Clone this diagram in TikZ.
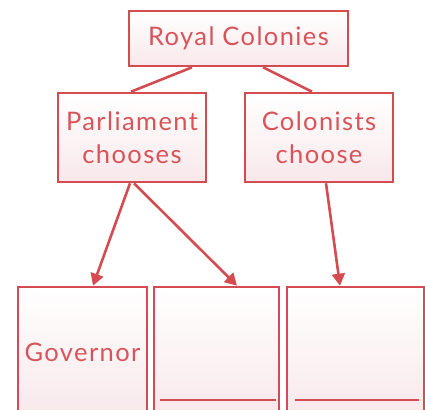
\documentclass[tikz,border=0pt]{standalone}
\usepackage{fontspec}
\setmainfont{Lato}[LetterSpace=5.5]
\usetikzlibrary{arrows.meta,calc}
\definecolor{cred}{RGB}{212,76,82}
\definecolor{ctext}{RGB}{216,84,90}
\definecolor{cpink}{RGB}{248,232,234}
\tikzset{
  box/.style={draw=cred, line width=2.6pt, top color=white, bottom color=cpink,
    inner sep=0pt, align=center, text=ctext,
    font=\fontsize{25.5}{33}\selectfont},
  link/.style={draw=cred, line width=2.6pt},
  arr/.style={link, -{Triangle[length=12pt,width=13pt]}},
  blank/.style={draw=cred, line width=2.6pt},
}
\begin{document}
\begin{tikzpicture}[x=1pt,y=-1pt]
\useasboundingbox (0,0) rectangle (425,409);
\clip (0,0) rectangle (425,409);
\node[box, minimum width=219pt, minimum height=55pt] (royal) at (238.5,38.5) {Royal Colonies};
\node[box, minimum width=148pt, minimum height=89pt] (parl) at (132,137.5) {Parliament\\chooses};
\node[box, minimum width=148pt, minimum height=89pt] (colon) at (319,137.5) {Colonists\\choose};
\node[box, minimum width=129pt, minimum height=131pt] (gov) at (82.5,352.5) {Governor};
\node[box, minimum width=125pt, minimum height=131pt] (b2) at (216.5,352.5) {};
\node[box, minimum width=137pt, minimum height=131pt] (b3) at (355.5,352.5) {};
\draw[link] ([xshift=-46.5pt]royal.south) -- ([xshift=-1pt]parl.north);
\draw[link] ([xshift=24.5pt]royal.south) -- ([xshift=-7pt]colon.north);
\draw[arr] ([xshift=-2pt]parl.south) -- ([xshift=10.5pt]gov.north);
\draw[arr] ([xshift=2pt]parl.south) -- ([xshift=20.5pt]b2.north);
\draw[arr] ([xshift=7pt]colon.south) -- ([xshift=-15.5pt]b3.north);
\draw[blank] (160,400) -- (276,400);
\draw[blank] (295,400) -- (419,400);
\end{tikzpicture}
\end{document}
